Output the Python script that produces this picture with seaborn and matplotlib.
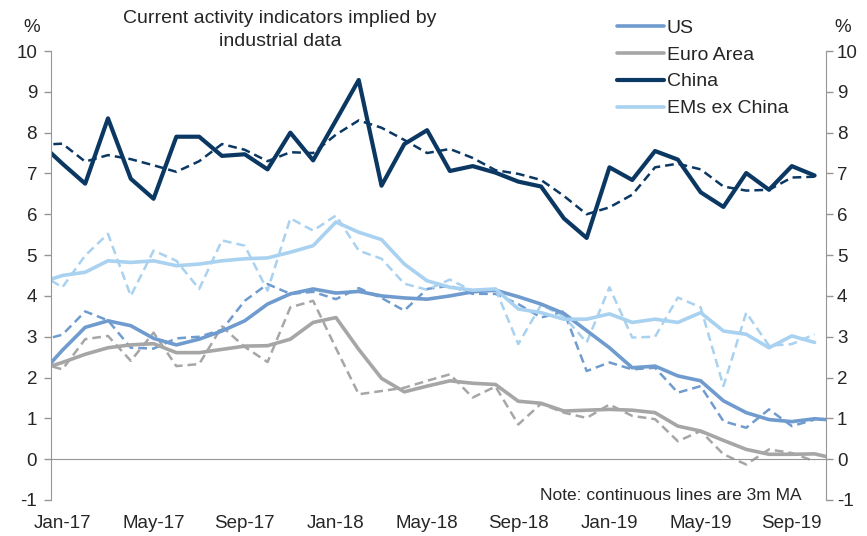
import seaborn as sns
import matplotlib.pyplot as plt
import pandas as pd
import numpy as np

# monthly data, Dec-16 .. Nov-19 (the first and last month sit outside the axis and get clipped)
months = pd.period_range('2016-12', '2019-11', freq='M')

us_ma = [2.05, 2.67, 3.23, 3.39, 3.27, 2.96, 2.80, 2.94, 3.14, 3.39, 3.80, 4.05,
         4.17, 4.07, 4.11, 4.00, 3.95, 3.92, 4.00, 4.10, 4.14, 3.98, 3.80, 3.57,
         3.15, 2.73, 2.24, 2.28, 2.04, 1.92, 1.43, 1.14, 0.97, 0.92, 0.99, 0.95]
us_m = [2.90, 3.05, 3.62, 3.40, 2.73, 2.71, 2.96, 3.00, 3.17, 3.88, 4.29, 4.05,
        4.10, 3.92, 4.19, 3.95, 3.64, 4.17, 4.25, 4.05, 4.05, 3.80, 3.47, 3.62,
        2.16, 2.37, 2.20, 2.24, 1.63, 1.79, 0.93, 0.77, 1.22, 0.81, 0.97, np.nan]

ea_ma = [2.19, 2.37, 2.57, 2.73, 2.80, 2.83, 2.61, 2.61, 2.69, 2.77, 2.78, 2.94,
         3.35, 3.47, 2.69, 1.98, 1.65, 1.79, 1.92, 1.86, 1.83, 1.42, 1.37, 1.18,
         1.20, 1.22, 1.20, 1.14, 0.81, 0.69, 0.46, 0.24, 0.12, 0.12, 0.13, 0.00]
ea_m = [2.36, 2.20, 2.94, 3.02, 2.41, 3.10, 2.28, 2.33, 3.25, 2.75, 2.38, 3.72,
        3.88, 2.72, 1.59, 1.67, 1.75, 1.92, 2.08, 1.51, 1.78, 0.85, 1.36, 1.14,
        1.01, 1.34, 1.06, 0.98, 0.44, 0.69, 0.12, -0.13, 0.24, 0.15, -0.05, np.nan]

cn_ma = [7.76, 7.24, 6.75, 8.35, 6.87, 6.38, 7.90, 7.90, 7.43, 7.47, 7.10, 8.00,
         7.32, 8.30, 9.29, 6.70, 7.72, 8.06, 7.06, 7.18, 7.02, 6.80, 6.68, 5.90,
         5.42, 7.15, 6.84, 7.55, 7.34, 6.54, 6.18, 7.01, 6.60, 7.18, 6.95, np.nan]
cn_m = [7.70, 7.73, 7.29, 7.45, 7.35, 7.20, 7.04, 7.30, 7.72, 7.58, 7.30, 7.52,
        7.50, 7.95, 8.30, 8.12, 7.82, 7.50, 7.60, 7.38, 7.08, 6.99, 6.84, 6.45,
        6.00, 6.17, 6.48, 7.15, 7.24, 7.10, 6.68, 6.58, 6.60, 6.90, 6.92, np.nan]

em_ma = [4.32, 4.50, 4.58, 4.86, 4.82, 4.86, 4.74, 4.78, 4.86, 4.91, 4.93, 5.07,
         5.23, 5.81, 5.56, 5.38, 4.78, 4.37, 4.21, 4.14, 4.17, 3.68, 3.59, 3.43,
         3.43, 3.56, 3.35, 3.43, 3.35, 3.59, 3.14, 3.06, 2.73, 3.02, 2.86, np.nan]
em_m = [4.55, 4.21, 4.99, 5.52, 4.00, 5.11, 4.86, 4.17, 5.36, 5.23, 4.13, 5.90,
        5.60, 5.97, 5.11, 4.91, 4.30, 4.15, 4.40, 4.12, 4.17, 2.82, 3.78, 3.50,
        2.86, 4.21, 2.98, 3.00, 3.96, 3.72, 1.79, 3.59, 2.78, 2.82, 3.06, np.nan]

names = ['US', 'Euro Area', 'China', 'EMs ex China']
colors = ['#6f9bcf', '#a6a6a6', '#0b3862', '#a9d1f0']
tick_labels = ['Jan-17', 'May-17', 'Sep-17', 'Jan-18', 'May-18', 'Sep-18',
               'Jan-19', 'May-19', 'Sep-19']

sns.set_style('white')
plt.rcParams['font.family'] = ['Liberation Sans', 'DejaVu Sans']
plt.rcParams['axes.unicode_minus'] = False
grey = '#969696'

# category centre positions: Jan-17 is 0.5, Dec-16 is -0.5
pos = np.arange(len(months)) - 0.5
df = pd.DataFrame({'x': pos})
for n, ma, m in zip(names, [us_ma, ea_ma, cn_ma, em_ma], [us_m, ea_m, cn_m, em_m]):
    df[n + ' ma'] = ma
    df[n + ' m'] = m

fig = plt.figure(figsize=(8.67, 5.36), dpi=100)
ax = fig.add_axes([51 / 867, 1 - 500 / 536, 775 / 867, 449 / 536])

for n, c in zip(names, colors):
    sns.lineplot(data=df, x='x', y=n + ' m', ax=ax, color=c, lw=1.8,
                 linestyle=(0, (3.5, 2)), estimator=None, legend=False)
handles = []
for n, c in zip(names, colors):
    sns.lineplot(data=df, x='x', y=n + ' ma', ax=ax, color=c,
                 lw=3.0 if n == 'China' else 2.6, estimator=None, legend=False)
    handles.append(ax.lines[-1])

ax.set_xlim(0, 34)
ax.set_ylim(-1, 10)
ax.set_xlabel('')
ax.set_ylabel('')
ax.set_yticks(range(-1, 11))
ax.set_xticks(range(0, 33, 4))
ax.spines['top'].set_visible(False)
ax.spines['right'].set_visible(False)
ax.spines['left'].set_color(grey)
ax.spines['bottom'].set_position(('data', 0))
ax.spines['bottom'].set_color(grey)
ax.tick_params(axis='x', length=5, width=1, direction='out', color=grey, labelbottom=False)
ax.tick_params(axis='y', length=5, width=1, direction='out', color=grey, labelsize=13.5, pad=5)

sec = ax.secondary_xaxis('bottom')
sec.set_xticks(np.arange(0.5, 33, 4), labels=tick_labels)
sec.tick_params(length=0, pad=11, labelsize=13.5)
sec.spines['bottom'].set_visible(False)

ax2 = ax.twinx()
ax2.set_ylim(-1, 10)
ax2.set_yticks(range(-1, 11))
for s in ['top', 'bottom', 'left']:
    ax2.spines[s].set_visible(False)
ax2.spines['right'].set_color(grey)
ax2.tick_params(axis='y', length=5, width=1, direction='out', color=grey, labelsize=13.5, pad=3)

fig.text(280 / 867, 1 - 30 / 536, 'Current activity indicators implied by\nindustrial data',
         ha='center', va='center', fontsize=14, linespacing=1.4)
fig.text(32 / 867, 1 - 27 / 536, '%', ha='center', va='center', fontsize=13.5)
fig.text(843 / 867, 1 - 27 / 536, '%', ha='center', va='center', fontsize=13.5)
fig.text(802 / 867, 1 - 495 / 536, 'Note: continuous lines are 3m MA',
         ha='right', va='center', fontsize=12.5)

fig.legend(handles, names, loc='upper left', bbox_to_anchor=(617 / 867, 1 - 19 / 536),
           frameon=False, fontsize=14, handlelength=2.4, handletextpad=0.15,
           labelspacing=0.48, borderpad=0, borderaxespad=0)

plt.savefig('out.png', dpi=100)
